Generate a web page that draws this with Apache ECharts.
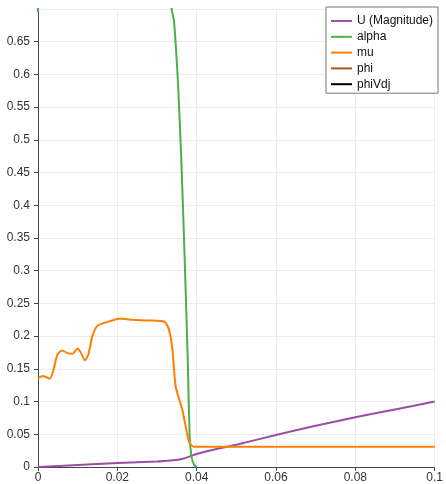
<!DOCTYPE html>
<html>
<head>
<meta charset="utf-8">
<script src="https://cdn.jsdelivr.net/npm/echarts@6/dist/echarts.min.js"></script>
<style>html,body{margin:0;padding:0;background:#fff}#c{width:446px;height:484px}</style>
</head>
<body>
<div id="c"></div>
<script>
var seriesNames = ['U (Magnitude)', 'alpha', 'mu', 'phi', 'phiVdj'];
var seriesColors = ['#994fa3', '#4daf4a', '#ff7f00', '#a65628', '#000000'];

var uX = [0, 0.01, 0.02, 0.03, 0.034, 0.036, 0.038, 0.04, 0.045, 0.05, 0.06, 0.07, 0.08, 0.09, 0.1];
var uY = [0, 0.003, 0.006, 0.0085, 0.0105, 0.012, 0.0155, 0.02, 0.0275, 0.034, 0.049, 0.063, 0.076, 0.088, 0.1];

var alphaX = [0, 0.0003, 0.028, 0.031, 0.0327, 0.0337, 0.03425, 0.0347, 0.0353, 0.0361, 0.0367, 0.0373, 0.0378, 0.0382, 0.0387, 0.0394, 0.0401];
var alphaY = [0.695, 1.0, 1.0, 0.9, 0.78, 0.70, 0.683, 0.648, 0.587, 0.474, 0.37, 0.255, 0.153, 0.052, 0.016, 0.003, 0];

var muX = [0, 0.0011, 0.0019, 0.0029, 0.0038, 0.0049, 0.0061, 0.0074, 0.0087, 0.0099, 0.0108, 0.0118, 0.0127, 0.0137, 0.015, 0.0171, 0.0208, 0.0238, 0.028, 0.0319, 0.033, 0.0339, 0.0347, 0.0364, 0.0381, 0.0393, 0.0406, 0.1];
var muY = [0.135, 0.139, 0.138, 0.135, 0.146, 0.172, 0.178, 0.174, 0.173, 0.181, 0.175, 0.163, 0.172, 0.2, 0.216, 0.221, 0.227, 0.225, 0.224, 0.222, 0.21, 0.179, 0.123, 0.087, 0.038, 0.031, 0.031, 0.031];

var phiX = [];
var phiY = [];
var phiVdjX = [];
var phiVdjY = [];

function zip(xs, ys) { return xs.map(function (x, i) { return [x, ys[i]]; }); }

var allX = [uX, alphaX, muX, phiX, phiVdjX];
var allY = [uY, alphaY, muY, phiY, phiVdjY];

var chart = echarts.init(document.getElementById('c'), null, {renderer: 'canvas'});
var font = 'Liberation Sans, Arial, sans-serif';
chart.setOption({
  animation: false,
  backgroundColor: '#fff',
  grid: {left: 38, right: 8, top: 9, bottom: 17, containLabel: false},
  legend: {
    orient: 'vertical',
    right: 8,
    top: 7,
    padding: [7, 5, 2, 5],
    itemGap: 1.8,
    itemWidth: 21,
    itemHeight: 2,
    icon: 'rect',
    backgroundColor: '#fff',
    borderColor: '#777',
    borderWidth: 1,
    borderRadius: 0,
    textStyle: {fontFamily: font, fontSize: 12, color: '#111', lineHeight: 14},
    data: seriesNames
  },
  xAxis: {
    type: 'value',
    min: 0, max: 0.1, interval: 0.02,
    axisLine: {show: true, onZero: false, lineStyle: {color: '#444', width: 1}},
    axisTick: {show: true, length: 4, lineStyle: {color: '#444'}},
    axisLabel: {margin: 5, fontFamily: font, fontSize: 12, color: '#333',
      formatter: function (v) { return String(+v.toFixed(4)); }},
    splitLine: {show: true, lineStyle: {color: '#ececec', width: 1}}
  },
  yAxis: {
    type: 'value',
    min: 0, max: 0.7, interval: 0.05,
    axisLine: {show: true, onZero: false, lineStyle: {color: '#444', width: 1}},
    axisTick: {show: true, length: 4, lineStyle: {color: '#444'}},
    axisLabel: {margin: 8, fontFamily: font, fontSize: 12, color: '#333', showMaxLabel: false,
      formatter: function (v) { return String(+v.toFixed(4)); }},
    splitLine: {show: true, lineStyle: {color: '#ececec', width: 1}}
  },
  series: seriesNames.map(function (n, i) {
    return {
      name: n,
      type: 'line',
      data: zip(allX[i], allY[i]),
      showSymbol: false,
      symbol: 'none',
      clip: true,
      smooth: 0.2,
      lineStyle: {color: seriesColors[i], width: 2},
      itemStyle: {color: seriesColors[i]}
    };
  })
});
</script>
</body>
</html>
